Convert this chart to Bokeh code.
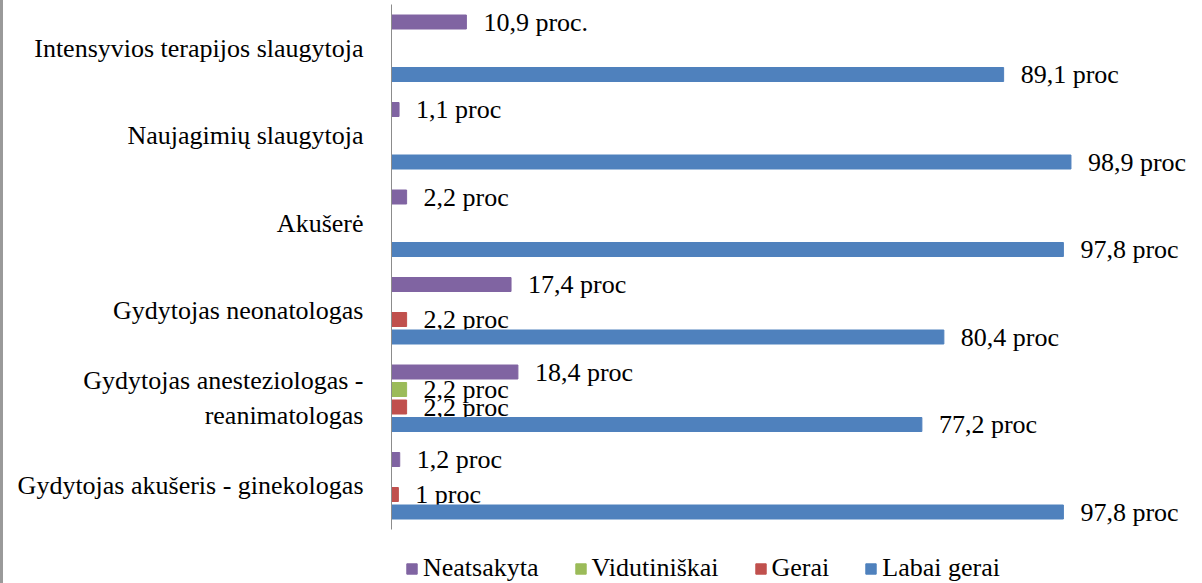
from bokeh.plotting import figure
from bokeh.models import ColumnDataSource, Range1d, Legend, LegendItem, FixedTicker
from bokeh.transform import dodge
from bokeh.core.properties import value
from bokeh.embed import file_html
from bokeh.resources import INLINE

# ---- data (bottom to top) ----
categories = [
    "Gydytojas akušeris - ginekologas",
    "Gydytojas anesteziologas -\nreanimatologas",
    "Gydytojas neonatologas",
    "Akušerė",
    "Naujagimių slaugytoja",
    "Intensyvios terapijos slaugytoja",
]
neatsakyta = [1.2, 18.4, 17.4, 2.2, 1.1, 10.9]
vidutiniskai = [0, 2.2, 0, 0, 0, 0]
gerai = [1.0, 2.2, 2.2, 0, 0, 0]
labai_gerai = [97.8, 77.2, 80.4, 97.8, 98.9, 89.1]

neatsakyta_labels = ["1,2 proc", "18,4 proc", "17,4 proc", "2,2 proc", "1,1 proc", "10,9 proc."]
vidutiniskai_labels = ["", "2,2 proc", "", "", "", ""]
gerai_labels = ["1 proc", "2,2 proc", "2,2 proc", "", "", ""]
labai_gerai_labels = ["97,8 proc", "77,2 proc", "80,4 proc", "97,8 proc", "98,9 proc", "89,1 proc"]

series_names = ["Neatsakyta", "Vidutiniškai", "Gerai", "Labai gerai"]
series_values = [neatsakyta, vidutiniskai, gerai, labai_gerai]
series_labels = [neatsakyta_labels, vidutiniskai_labels, gerai_labels, labai_gerai_labels]
colors = ["#8064A2", "#9BBB59", "#C0504D", "#4F81BD"]
offsets = [0.3, 0.1, -0.1, -0.3]

FONT = "'Liberation Serif', 'Times New Roman', serif"

# layout constants (pixels)
CAT_PX = 87.5          # height of one category band
LEGEND_PX = 54         # room under the axis for the legend
n = len(categories)
idx = list(range(n))

p = figure(
    frame_width=799, frame_height=int(CAT_PX * n + LEGEND_PX),
    y_range=Range1d(-0.5 - LEGEND_PX / CAT_PX, n - 0.5),
    x_range=Range1d(0, 116.3),
    output_backend="svg", toolbar_location=None,
    min_border_left=391, min_border_right=12, min_border_top=4, min_border_bottom=0,
)
p.border_fill_color = None
p.styles = {"box-shadow": "inset 3px 0 0 #9A9A9A"}
p.xaxis.visible = False
p.xgrid.visible = False
p.ygrid.visible = False
p.outline_line_color = None

p.yaxis.bounds = (-0.5, n - 0.5)
p.yaxis.ticker = FixedTicker(ticks=idx)
p.yaxis.major_label_overrides = {i: c for i, c in zip(idx, categories)}
p.yaxis.axis_line_color = "#8C8C8C"
p.yaxis.major_tick_line_color = None
p.yaxis.minor_tick_line_color = None
p.yaxis.major_label_text_font = FONT
p.yaxis.major_label_text_font_size = "26px"
p.yaxis.major_label_text_color = "black"
p.yaxis.major_label_standoff = 22

items = []
for name, vals, labs, col, off in zip(series_names, series_values, series_labels, colors, offsets):
    yy = [i for i, v in zip(idx, vals) if v > 0]
    vv = [v for v in vals if v > 0]
    ll = [l for l, v in zip(labs, vals) if v > 0]
    src = ColumnDataSource(dict(y=yy, val=vv, lab=ll))
    r = p.hbar(y=dodge("y", off), left=0, right="val", height=0.16,
               source=src, fill_color=col, line_color=col)
    p.text(x="val", y=dodge("y", off), text="lab", source=src,
           x_offset=17, text_baseline="middle", text_align="left",
           text_font=value(FONT), text_font_size="26px", text_color="black")
    items.append(LegendItem(label=name, renderers=[r]))

legend = Legend(items=items, orientation="horizontal", location=(14, 0),
                glyph_width=13, glyph_height=13, label_standoff=5, spacing=35,
                padding=0, margin=0, border_line_color=None, background_fill_alpha=0,
                label_text_font=FONT, label_text_font_size="26px", label_text_color="black")
p.add_layout(legend, "center")

open("out.html", "w").write(file_html(p, INLINE))
